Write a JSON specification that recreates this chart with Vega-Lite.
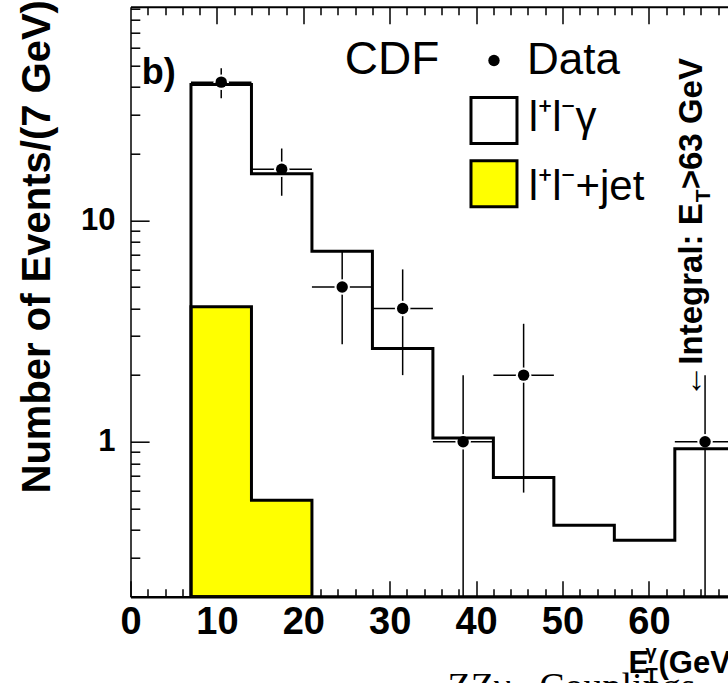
{
  "$schema": "https://vega.github.io/schema/vega-lite/v6.json",
  "autosize": {"type": "none"},
  "padding": {"left": 130.5, "top": 6.7, "right": 0, "bottom": 86.3},
  "width": 597.5,
  "height": 590,
  "background": "white",
  "config": {
    "view": {"stroke": null},
    "font": "Liberation Sans",
    "axis": {"zindex": 1, "domainColor": "black", "tickColor": "black", "labelColor": "black", "titleColor": "black", "grid": false, "labelFont": "Liberation Sans", "titleFont": "Liberation Sans"}
  },
  "datasets": {
    "mc": [
      {"lo": 7, "hi": 14, "n": 41},
      {"lo": 14, "hi": 21, "n": 16.2},
      {"lo": 21, "hi": 28, "n": 7.25},
      {"lo": 28, "hi": 35, "n": 2.64},
      {"lo": 35, "hi": 42, "n": 1.04},
      {"lo": 42, "hi": 49, "n": 0.69},
      {"lo": 49, "hi": 56, "n": 0.42},
      {"lo": 56, "hi": 63, "n": 0.36},
      {"lo": 63, "hi": 70, "n": 0.93}
    ],
    "jet": [
      {"lo": 7, "hi": 14, "n": 4.07},
      {"lo": 14, "hi": 21, "n": 0.545}
    ],
    "obs": [
      {"e": 10.5, "lo": 7, "hi": 14, "n": 42, "nlo": 35.5, "nhi": 48.5},
      {"e": 17.5, "lo": 14, "hi": 21, "n": 17, "nlo": 12.9, "nhi": 21.1},
      {"e": 24.5, "lo": 21, "hi": 28, "n": 5, "nlo": 2.76, "nhi": 7.24},
      {"e": 31.5, "lo": 28, "hi": 35, "n": 4, "nlo": 2, "nhi": 6},
      {"e": 38.5, "lo": 35, "hi": 42, "n": 1, "nlo": 0, "nhi": 2},
      {"e": 45.5, "lo": 42, "hi": 49, "n": 2, "nlo": 0.59, "nhi": 3.41},
      {"e": 66.5, "lo": 63, "hi": 70, "n": 1, "nlo": 0, "nhi": 2}
    ],
    "note": [{}]
  },
  "layer": [
    {
      "data": {"name": "jet"},
      "transform": [{"fold": ["lo", "hi"], "as": ["side", "edge"]}],
      "mark": {"type": "area", "fill": "#ffff00", "stroke": "black", "strokeWidth": 3, "clip": true, "opacity": 1},
      "encoding": {
        "x": {"field": "edge", "type": "quantitative",
          "scale": {"domain": [0, 69.155], "nice": false, "zero": false},
          "axis": {"orient": "bottom", "values": [0, 10, 20, 30, 40, 50, 60], "tickSize": -16, "tickWidth": 1.5, "domainWidth": 2.5,
            "labelFontSize": 38, "labelFontWeight": "bold", "labelPadding": 23, "labelFlush": false, "labelOverlap": false, "labelBound": false,
            "title": "E", "titleFontSize": 31, "titleFontWeight": "bold", "titleX": 497.5, "titleY": 75.3, "titleAlign": "left", "titleBaseline": "alphabetic", "titleAngle": 0}},
        "y": {"field": "n", "type": "quantitative",
          "scale": {"type": "log", "domain": [0.2, 92], "nice": false, "clamp": true},
          "axis": {"orient": "left", "values": [1, 10], "format": "d", "tickSize": -18.6, "tickWidth": 1.5, "domainWidth": 1.5,
            "labelFontSize": 31, "labelFontWeight": "bold", "labelPadding": 34.1, "labelOverlap": false, "labelBound": false,
            "title": "Number of Events/(7 GeV)", "titleFontSize": 40, "titleFontWeight": "bold", "titleAngle": 270,
            "titleX": -81.2, "titleY": 486.3, "titleAlign": "left", "titleBaseline": "alphabetic"}},
        "y2": {"datum": 0.2}
      }
    },
    {
      "data": {"name": "obs"},
      "mark": {"type": "rule", "stroke": "black", "strokeWidth": 1.5, "clip": true},
      "encoding": {
        "x": {"field": "e", "type": "quantitative",
          "axis": {"orient": "top", "values": [10, 20, 30, 40, 50, 60], "tickSize": -17, "tickWidth": 1.5, "domainWidth": 2, "labels": false,
            "title": "(GeV)", "titleFontSize": 31, "titleFontWeight": "bold", "titleX": 527.5, "titleY": 665.3, "titleAlign": "left", "titleBaseline": "alphabetic", "titleAngle": 0}},
        "y": {"field": "nlo", "type": "quantitative", "axis": null},
        "y2": {"field": "nhi"}
      }
    },
    {
      "data": {"name": "obs"},
      "mark": {"type": "rule", "stroke": "black", "strokeWidth": 1.5, "clip": true},
      "encoding": {
        "x": {"field": "lo", "type": "quantitative",
          "axis": {"orient": "top", "values": [2, 4, 6, 8, 12, 14, 16, 18, 22, 24, 26, 28, 32, 34, 36, 38, 42, 44, 46, 48, 52, 54, 56, 58, 62, 64, 66, 68],
            "tickSize": -8, "tickWidth": 1.5, "domain": false, "labels": false,
            "title": "T", "titleFontSize": 20, "titleFontWeight": "bold", "titleX": 514.5, "titleY": 675, "titleAlign": "left", "titleBaseline": "alphabetic", "titleAngle": 0}},
        "x2": {"field": "hi"},
        "y": {"field": "n", "type": "quantitative", "axis": null}
      }
    },
    {
      "data": {"name": "obs"},
      "mark": {"type": "point", "filled": true, "color": "white", "size": 240, "opacity": 1},
      "encoding": {
        "x": {"field": "e", "type": "quantitative", "axis": null},
        "y": {"field": "n", "type": "quantitative", "axis": null}
      }
    },
    {
      "data": {"name": "mc"},
      "transform": [{"fold": ["lo", "hi"], "as": ["side", "edge"]}],
      "mark": {"type": "area", "fill": "transparent", "stroke": "black", "strokeWidth": 3, "clip": true},
      "encoding": {
        "x": {"field": "edge", "type": "quantitative",
          "axis": {"orient": "bottom", "values": [2, 4, 6, 8, 12, 14, 16, 18, 22, 24, 26, 28, 32, 34, 36, 38, 42, 44, 46, 48, 52, 54, 56, 58, 62, 64, 66, 68],
            "tickSize": -8, "tickWidth": 1.5, "domain": false, "labels": false,
            "title": "γ", "titleFontSize": 20, "titleFontWeight": "bold", "titleX": 514.5, "titleY": 61.3, "titleAlign": "left", "titleBaseline": "alphabetic", "titleAngle": 0}},
        "y": {"field": "n", "type": "quantitative",
          "axis": {"orient": "left", "values": [0.2, 0.3, 0.4, 0.5, 0.6, 0.7, 0.8, 0.9, 2, 3, 4, 5, 6, 7, 8, 9, 20, 30, 40, 50, 60, 70, 80, 90],
            "tickSize": -9.3, "tickWidth": 1.5, "domain": false, "labels": false,
            "title": "ZZγ\u00a0\u00a0\u00a0Couplings", "titleFont": "Liberation Serif", "titleFontSize": 38, "titleFontWeight": "normal", "titleAngle": 0,
            "titleX": 316.5, "titleY": 691.5, "titleAlign": "left", "titleBaseline": "alphabetic"}},
        "y2": {"datum": 0.2}
      }
    },
    {
      "data": {"name": "obs"},
      "mark": {"type": "point", "filled": true, "color": "black", "size": 130, "opacity": 1},
      "encoding": {
        "x": {"field": "e", "type": "quantitative", "axis": null},
        "y": {"field": "n", "type": "quantitative", "axis": null}
      }
    },
    {
      "data": {"name": "note"},
      "mark": {"type": "point", "filled": true, "color": "black", "size": 130, "opacity": 1},
      "encoding": {"x": {"datum": 42.07, "axis": null}, "y": {"datum": 52.6, "axis": null}}
    },
    {
      "data": {"name": "note"},
      "mark": {"type": "point", "shape": "square", "size": 2116, "filled": true, "fill": "white", "stroke": "black", "strokeWidth": 3, "opacity": 1},
      "encoding": {"x": {"datum": 42.07, "axis": null}, "y": {"datum": 28.2, "axis": null}}
    },
    {
      "data": {"name": "note"},
      "mark": {"type": "point", "shape": "square", "size": 2116, "filled": true, "fill": "#ffff00", "stroke": "black", "strokeWidth": 3, "opacity": 1},
      "encoding": {"x": {"datum": 42.07, "axis": null}, "y": {"datum": 14.6, "axis": null}}
    },
    {
      "data": {"name": "note"},
      "mark": {"type": "text", "text": "b)", "font": "Liberation Sans", "fontSize": 36, "fontWeight": "bold", "align": "left", "baseline": "alphabetic", "color": "black"},
      "encoding": {"x": {"datum": 1.3, "axis": null}, "y": {"datum": 41.3, "axis": null}}
    },
    {
      "data": {"name": "note"},
      "mark": {"type": "text", "text": "CDF", "font": "Liberation Sans", "fontSize": 46, "align": "left", "baseline": "alphabetic", "color": "black"},
      "encoding": {"x": {"datum": 24.8, "axis": null}, "y": {"datum": 45.9, "axis": null}}
    },
    {
      "data": {"name": "note"},
      "mark": {"type": "text", "text": "Data", "font": "Liberation Sans", "fontSize": 44, "align": "left", "baseline": "alphabetic", "color": "black"},
      "encoding": {"x": {"datum": 45.9, "axis": null}, "y": {"datum": 45.5, "axis": null}}
    },
    {
      "data": {"name": "note"},
      "mark": {"type": "text", "text": "l⁺l⁻γ", "font": "Liberation Sans", "fontSize": 42, "align": "left", "baseline": "alphabetic", "color": "black"},
      "encoding": {"x": {"datum": 46.1, "axis": null}, "y": {"datum": 25.4, "axis": null}}
    },
    {
      "data": {"name": "note"},
      "mark": {"type": "text", "text": "l⁺l⁻+jet", "font": "Liberation Sans", "fontSize": 42, "align": "left", "baseline": "alphabetic", "color": "black"},
      "encoding": {"x": {"datum": 46.1, "axis": null}, "y": {"datum": 12.3, "axis": null}}
    },
    {
      "data": {"name": "note"},
      "mark": {"type": "text", "text": "←Integral: E", "font": "Liberation Sans", "fontSize": 33, "fontWeight": "bold", "angle": 270, "align": "right", "baseline": "alphabetic", "color": "black"},
      "encoding": {"x": {"datum": 66.09, "axis": null}, "y": {"datum": 11.93, "axis": null}}
    },
    {
      "data": {"name": "note"},
      "mark": {"type": "text", "text": "T", "font": "Liberation Sans", "fontSize": 21, "fontWeight": "bold", "angle": 270, "align": "left", "baseline": "alphabetic", "dx": 1, "dy": 8, "color": "black"},
      "encoding": {"x": {"datum": 66.09, "axis": null}, "y": {"datum": 11.93, "axis": null}}
    },
    {
      "data": {"name": "note"},
      "mark": {"type": "text", "text": ">63 GeV", "font": "Liberation Sans", "fontSize": 33, "fontWeight": "bold", "angle": 270, "align": "left", "baseline": "alphabetic", "dx": 14, "color": "black"},
      "encoding": {"x": {"datum": 66.09, "axis": null}, "y": {"datum": 11.93, "axis": null}}
    }
  ],
  "resolve": {"axis": {"x": "independent", "y": "independent"}}
}
